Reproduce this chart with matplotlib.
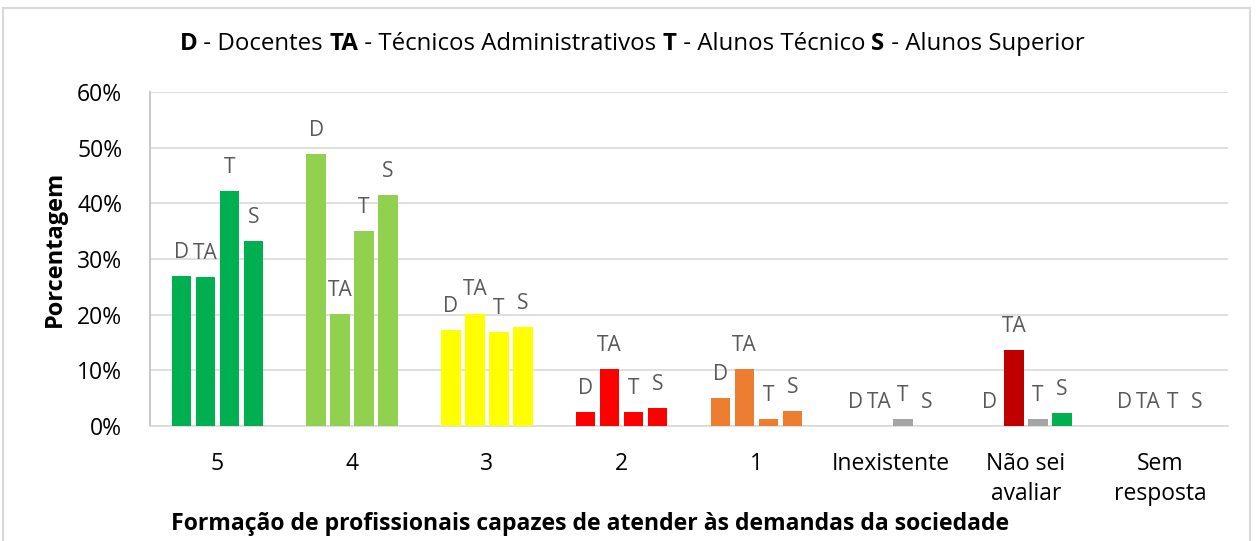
import numpy as np
import matplotlib
matplotlib.use('Agg')
import matplotlib.pyplot as plt
from matplotlib.patches import Rectangle

plt.rcParams['font.family'] = ['Open Sans', 'DejaVu Sans']

categorias = ['5', '4', '3', '2', '1', 'Inexistente', 'Não sei\navaliar', 'Sem\nresposta']
grupos = ['D', 'TA', 'T', 'S']

# porcentagens (%) por categoria: D, TA, T, S
docentes = [26.9, 48.8, 17.2, 2.5, 5.0, 0.0, 0.0, 0.0]
tecnicos_adm = [26.8, 20.1, 20.2, 10.2, 10.2, 0.0, 13.6, 0.0]
alunos_tec = [42.2, 35.0, 16.9, 2.5, 1.3, 1.2, 1.2, 0.0]
alunos_sup = [33.2, 41.5, 17.8, 3.2, 2.7, 0.0, 2.3, 0.0]

cores_cat = ['#00B050', '#92D050', '#FFFF00', '#FF0000', '#ED7D31', '#A5A5A5', None, '#A5A5A5']
cores_nao_sei = ['#C00000', '#C00000', '#A5A5A5', '#00B050']

series = [docentes, tecnicos_adm, alunos_tec, alunos_sup]

fig = plt.figure(figsize=(12.59, 5.41), dpi=100)
ax = fig.add_axes([150 / 1259, 1 - 426 / 541, 1078 / 1259, 334 / 541])

x = np.arange(len(categorias))
passo = 0.178
larg = 0.145
for j, (nome, vals) in enumerate(zip(grupos, series)):
    pos = x + (j - 1.5) * passo
    cores = [cores_nao_sei[j] if c is None else c for c in cores_cat]
    ax.bar(pos, np.array(vals) / 100, width=larg, color=cores, zorder=3)
    for px, v in zip(pos, vals):
        ax.annotate(nome, (px, v / 100), xytext=(0, 17), textcoords='offset points',
                    ha='center', va='center', fontsize=15, color='#595959')

ax.set_xlim(-0.5, len(categorias) - 0.5)
ax.set_ylim(0, 0.6)
ax.set_yticks(np.arange(0, 0.61, 0.1))
ax.set_yticklabels([f'{int(round(t * 100))}%' for t in np.arange(0, 0.61, 0.1)], fontsize=16.5)
ax.set_xticks(x)
ax.set_xticklabels(categorias, fontsize=16.5, linespacing=1.3, va='top')
ax.tick_params(axis='both', length=0, colors='#000000')
ax.tick_params(axis='x', pad=19)
ax.tick_params(axis='y', pad=20)
ax.grid(axis='y', color='#D9D9D9', linewidth=1.2, zorder=0)
for s in ['top', 'right']:
    ax.spines[s].set_visible(False)
ax.spines['left'].set_color('#BFBFBF')
ax.spines['bottom'].set_color('#D9D9D9')
ax.spines['left'].set_linewidth(1.2)
ax.spines['bottom'].set_linewidth(1.2)

fig.text(55 / 1259, 1 - 249 / 541, 'Porcentagem', rotation=90, ha='center', va='center',
         fontsize=17, fontweight='bold')
fig.text(590 / 1259, 1 - 524 / 541, 'Formação de profissionais capazes de atender às demandas da sociedade',
         ha='center', va='center', fontsize=16.6, fontweight='bold')

# titulo com partes em negrito
partes = [('D', 'bold'), (' - Docentes ', 'normal'), ('TA', 'bold'), (' - Técnicos Administrativos ', 'normal'),
          ('T', 'bold'), (' - Alunos Técnico ', 'normal'), ('S', 'bold'), (' - Alunos Superior', 'normal')]
textos = [fig.text(0, 1 - 44 / 541, p, fontweight=w, fontsize=17.3, va='center', ha='left') for p, w in partes]
fig.canvas.draw()
r = fig.canvas.get_renderer()
larguras = [t.get_window_extent(r).width for t in textos]
total = sum(larguras)
xpix = 632 - total / 2
for t, w in zip(textos, larguras):
    t.set_x(xpix / 1259)
    xpix += w

fig.patches.append(Rectangle((3 / 1259, -0.01), 1247 / 1259, 1 - 8 / 541 + 0.01, transform=fig.transFigure,
                             fill=False, edgecolor='#D9D9D9', linewidth=1.5))

fig.savefig('out.png', dpi=100)
